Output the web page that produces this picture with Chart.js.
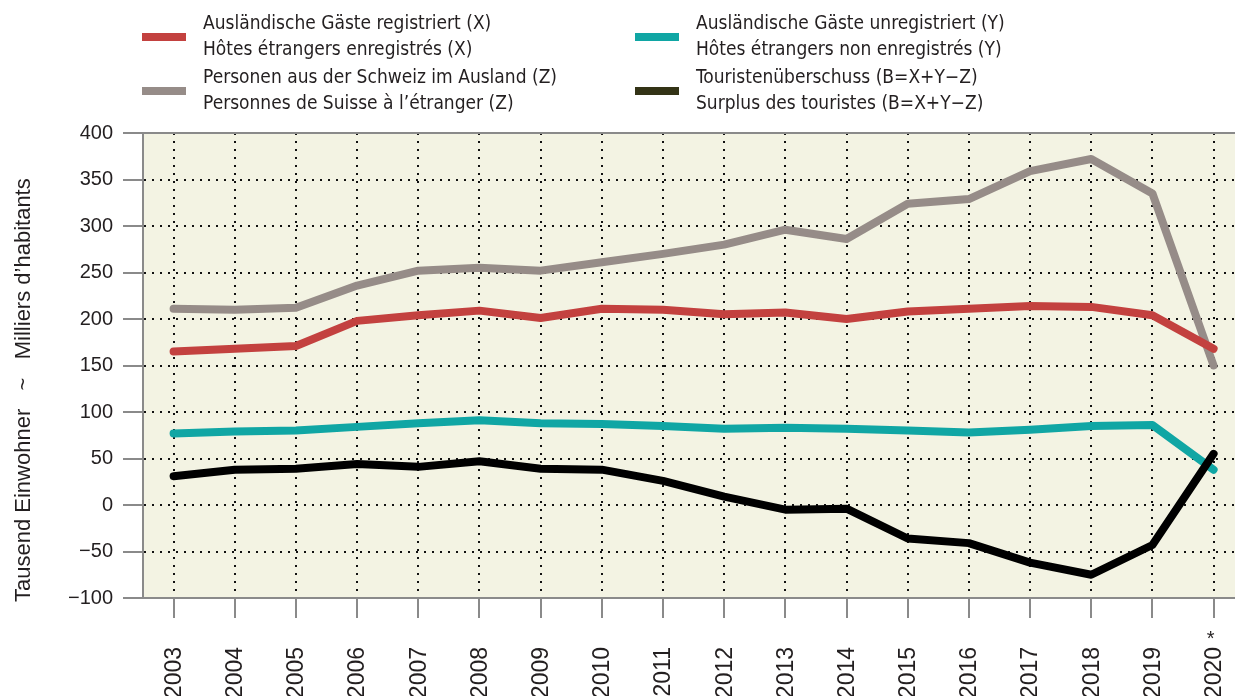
<!DOCTYPE html>
<html>
<head>
<meta charset="utf-8">
<script src="https://cdn.jsdelivr.net/npm/chart.js@4.4.1/dist/chart.umd.min.js"></script>
<style>
    html, body { margin: 0; padding: 0; background: #fff; }
    #wrap { position: relative; width: 1235px; height: 696px; overflow: hidden; }
    #chart { position: absolute; left: 0; top: 0; }
    .entry { position: absolute; font-family: 'Liberation Sans Narrow', 'DejaVu Sans Condensed', sans-serif; font-size: 19px; line-height: 26px; color: #231f20; }
    .entry .swatch { position: absolute; left: 0; top: 24px; width: 44px; height: 8px; }
    .entry .txt { margin-left: 61px; white-space: nowrap; }
</style>
</head>
<body>
<div id="wrap">
    <canvas id="chart" width="1235" height="696"></canvas>
    <div id="legend"></div>
</div>
<script>
// Jahre / années
const years = [2003, 2004, 2005, 2006, 2007, 2008, 2009, 2010, 2011, 2012, 2013, 2014, 2015, 2016, 2017, 2018, 2019, 2020];
const yearLabels = ['2003', '2004', '2005', '2006', '2007', '2008', '2009', '2010', '2011', '2012', '2013', '2014', '2015', '2016', '2017', '2018', '2019', '2020'];
const yTicks = [-100, -50, 0, 50, 100, 150, 200, 250, 300, 350, 400];

// Werte in Tausend
const registered   = [165, 168, 171, 198, 204, 209, 201, 211, 210, 205, 207, 200, 208, 211, 214, 213, 204, 168]; // X
const unregistered = [77, 79, 80, 84, 88, 91, 88, 87, 85, 82, 83, 82, 80, 78, 81, 85, 86, 38];                   // Y
const abroad       = [211, 210, 212, 236, 252, 255, 252, 261, 270, 280, 296, 286, 324, 329, 359, 372, 335, 150]; // Z
const surplus      = [31, 38, 39, 44, 41, 47, 39, 38, 26, 9, -5, -4, -36, -41, -62, -75, -43, 55];               // B

const seriesNames = [
    ['Ausländische Gäste registriert (X)', 'Hôtes étrangers enregistrés (X)'],
    ['Ausländische Gäste unregistriert (Y)', 'Hôtes étrangers non enregistrés (Y)'],
    ['Personen aus der Schweiz im Ausland (Z)', 'Personnes de Suisse à l’étranger (Z)'],
    ['Touristenüberschuss (B=X+Y−Z)', 'Surplus des touristes (B=X+Y−Z)']
];
const axisTitle = 'Tausend Einwohner   ~   Milliers d’habitants';

const COLORS = {
    red: '#c3413f',
    teal: '#10a6a4',
    grey: '#968c88',
    black: '#000000',
    blackKey: '#333316',
    plotBg: '#f3f3e3',
    frame: '#8a8a8a',
    text: '#231f20'
};

// --- Legende (HTML) ---
const legendSlots = [
    { left: 142, top: 9, color: COLORS.red },
    { left: 635, top: 9, color: COLORS.teal },
    { left: 142, top: 63, color: COLORS.grey },
    { left: 635, top: 63, color: COLORS.blackKey }
];
document.getElementById('legend').innerHTML = seriesNames.map((lines, i) => `
    <div class="entry" style="left:${legendSlots[i].left}px;top:${legendSlots[i].top}px">
        <span class="swatch" style="background:${legendSlots[i].color}"></span>
        <div class="txt">${lines[0]}<br>${lines[1]}</div>
    </div>`).join('');

// --- Hintergrund, Rahmen, Achsentexte ---
const framePlugin = {
    id: 'frame',
    beforeDraw(chart) {
        const { ctx, chartArea: a } = chart;
        ctx.save();
        ctx.fillStyle = COLORS.plotBg;
        ctx.fillRect(a.left, a.top, a.right - a.left, a.bottom - a.top);
        ctx.restore();
    },
    beforeDatasetsDraw(chart) {
        const { ctx, chartArea: a } = chart;
        ctx.save();
        ctx.strokeStyle = COLORS.frame;
        ctx.lineWidth = 2;
        ctx.beginPath();
        ctx.moveTo(a.left - 1, a.top);
        ctx.lineTo(a.right, a.top);
        ctx.stroke();
        ctx.restore();
    },
    afterDraw(chart) {
        const { ctx } = chart;
        const xs = chart.scales.x;
        ctx.save();
        ctx.fillStyle = COLORS.text;

        // Jahreszahlen, senkrecht
        ctx.font = '23px "Liberation Sans", Arial, sans-serif';
        ctx.textAlign = 'right';
        ctx.textBaseline = 'middle';
        years.forEach((yr, i) => {
            const x = xs.getPixelForValue(yr);
            ctx.save();
            ctx.translate(x + 1, 647);
            ctx.rotate(-Math.PI / 2);
            ctx.fillText(yearLabels[i], 0, 0);
            ctx.restore();
        });
        // Stern bei 2020 (provisorisch)
        ctx.font = '20px "Liberation Sans", Arial, sans-serif';
        ctx.textAlign = 'center';
        ctx.fillText('*', xs.getPixelForValue(2020) - 3, 639);

        // Y-Achsentitel
        ctx.font = '22px "Liberation Sans", Arial, sans-serif';
        ctx.textAlign = 'left';
        ctx.translate(24, 602);
        ctx.rotate(-Math.PI / 2);
        ctx.fillText(axisTitle, 0, 0);
        ctx.restore();
    }
};

const lineStyle = {
    borderWidth: 8,
    borderCapStyle: 'round',
    borderJoinStyle: 'round',
    pointRadius: 0,
    tension: 0,
    fill: false,
    clip: false
};

const toPoints = arr => arr.map((v, i) => ({ x: years[i], y: v }));

new Chart(document.getElementById('chart'), {
    type: 'line',
    data: {
        datasets: [
            { ...lineStyle, label: seriesNames[3][0], data: toPoints(surplus), borderColor: COLORS.black, order: 0 },
            { ...lineStyle, label: seriesNames[0][0], data: toPoints(registered), borderColor: COLORS.red, order: 1 },
            { ...lineStyle, label: seriesNames[1][0], data: toPoints(unregistered), borderColor: COLORS.teal, order: 2 },
            { ...lineStyle, label: seriesNames[2][0], data: toPoints(abroad), borderColor: COLORS.grey, order: 3 }
        ]
    },
    options: {
        responsive: false,
        devicePixelRatio: 1,
        animation: false,
        layout: { padding: { top: 133, right: 0, bottom: 0, left: 0 } },
        plugins: { legend: { display: false }, tooltip: { enabled: false } },
        scales: {
            x: {
                type: 'linear',
                min: 2002.5,
                max: 2020.35,
                afterBuildTicks: s => { s.ticks = years.map(v => ({ value: v })); },
                afterFit: s => { s.height = 98; },
                ticks: { display: false },
                grid: {
                    color: '#111',
                    lineWidth: 2,
                    tickLength: 20,
                    tickColor: COLORS.frame,
                    tickWidth: 2,
                    tickBorderDash: []
                },
                border: { display: true, color: COLORS.frame, width: 2, dash: [2, 6] }
            },
            y: {
                min: -100,
                max: 400,
                afterBuildTicks: s => { s.ticks = yTicks.map(v => ({ value: v })); },
                afterFit: s => { s.width = 143; },
                ticks: {
                    padding: 10,
                    color: COLORS.text,
                    font: { family: '"Liberation Sans", Arial, sans-serif', size: 20 },
                    callback: v => (v < 0 ? '−' + Math.abs(v) : String(v))
                },
                grid: {
                    color: '#111',
                    lineWidth: 2,
                    tickLength: 20,
                    tickColor: COLORS.frame,
                    tickWidth: 2,
                    tickBorderDash: []
                },
                border: { display: true, color: COLORS.frame, width: 2, dash: [2, 6] }
            }
        }
    },
    plugins: [framePlugin]
});
</script>
</body>
</html>
